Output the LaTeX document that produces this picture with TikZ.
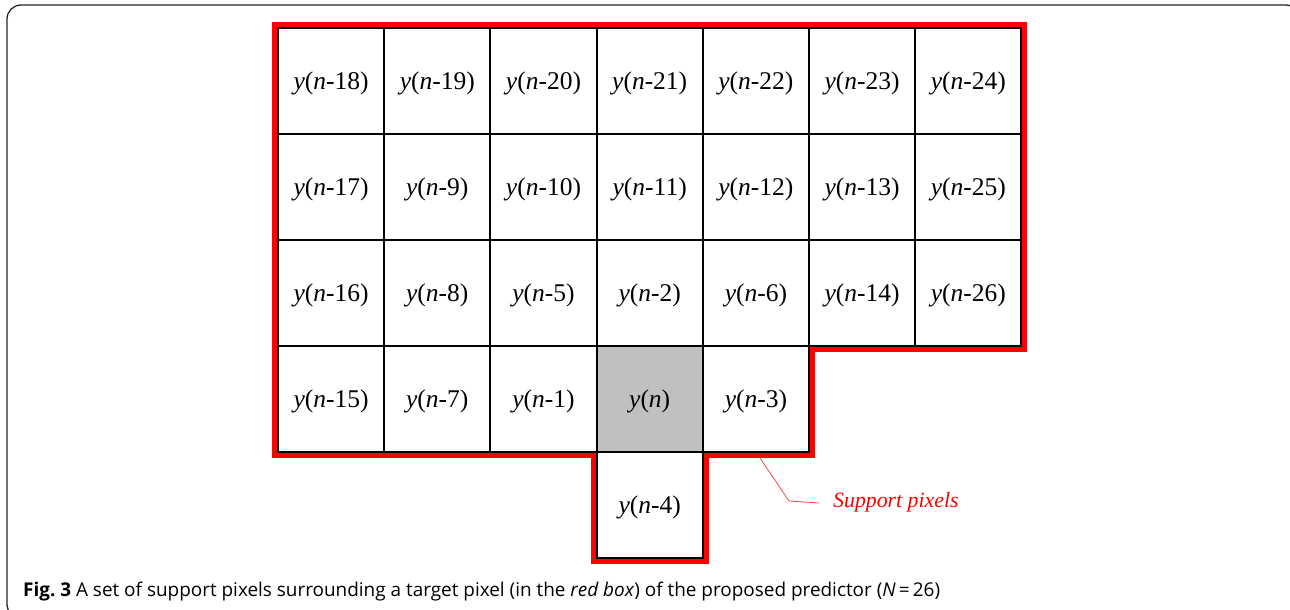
\documentclass[tikz,border=0pt]{standalone}
\usepackage{fontspec}
\setmainfont{Liberation Serif}
\newfontfamily\capfont{Open Sans}
\definecolor{supred}{RGB}{255,0,0}
\definecolor{target}{RGB}{192,192,192}
\tikzset{
  cell/.style={draw=black, line width=2pt, minimum width=106.2pt, minimum height=106pt,
    inner sep=0pt, text height=0pt, text depth=0pt, font=\fontsize{25.5}{30}\selectfont},
  redline/.style={draw=supred, line width=6pt, line join=miter},
  callout/.style={draw=supred!80, line width=0.7pt},
  frame/.style={draw=black!85, line width=1.3pt, rounded corners=14pt},
}
\newcommand{\yn}[1]{\raisebox{-8.5pt}{\textit{y}(\textit{n}-#1)}}
\begin{document}
\begin{tikzpicture}[x=1pt,y=-1pt]
\useasboundingbox (0,0) rectangle (1290,610);
\draw[frame] (7,5) rectangle (1300,618);
% red support outline
\draw[redline] (275,25) -- (1024.4,25) -- (1024.4,349.3) -- (812.2,349.3) -- (812.2,455)
  -- (705.8,455) -- (705.8,561) -- (593.6,561) -- (593.6,455) -- (275,455) -- cycle;
% cells
\def\cx#1{278+106.2*#1+53.1}
\def\cy#1{28+106*#1+53}
\foreach \c/\t in {0/18,1/19,2/20,3/21,4/22,5/23,6/24}
  \node[cell, fill=white] (c0\c) at ({\cx{\c}},{\cy{0}}) {\yn{\t}};
\foreach \c/\t in {0/17,1/9,2/10,3/11,4/12,5/13,6/25}
  \node[cell, fill=white] (c1\c) at ({\cx{\c}},{\cy{1}}) {\yn{\t}};
\foreach \c/\t in {0/16,1/8,2/5,3/2,4/6,5/14,6/26}
  \node[cell, fill=white] (c2\c) at ({\cx{\c}},{\cy{2}}) {\yn{\t}};
\foreach \c/\t in {0/15,1/7,2/1,4/3}
  \node[cell, fill=white] (c3\c) at ({\cx{\c}},{\cy{3}}) {\yn{\t}};
\node[cell, fill=target] (c33) at ({\cx{3}},{\cy{3}}) {\raisebox{-8.5pt}{\textit{y}(\textit{n})}};
\node[cell, fill=white] (c43) at ({\cx{3}},{\cy{4}}) {\yn{4}};
% callout
\node[anchor=west, text=supred, inner sep=0pt, font=\fontsize{21.8}{25}\selectfont\itshape] (lbl) at (833,502) {Support pixels};
\coordinate (cp) at (760,458);
\coordinate (bend) at (789,501);
\draw[callout] (cp) -- (bend) -- ([xshift=-14pt,yshift=-1pt]lbl.west);
% caption
\node[anchor=base west, inner sep=0pt, font=\capfont\fontsize{18.93}{22}\selectfont] (cap) at (23,596)
  {\textbf{Fig.\ 3} A set of support pixels surrounding a target pixel (in the \textit{red box}) of the proposed predictor (\textit{N}\,=\,26)};
\end{tikzpicture}
\end{document}
